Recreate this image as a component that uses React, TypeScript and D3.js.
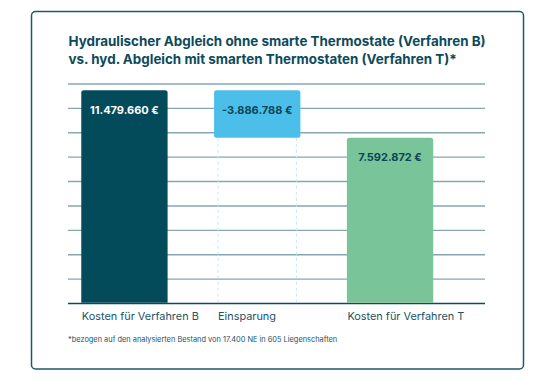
import React from "react";
import * as d3 from "d3";

const titleLines = [
  "Hydraulischer Abgleich ohne smarte Thermostate (Verfahren B)",
  "vs. hyd. Abgleich mit smarten Thermostaten (Verfahren T)*",
];
const categories = ["Kosten für Verfahren B", "Einsparung", "Kosten für Verfahren T"];
const values = [11479660, -3886788, 7592872];
const valueLabels = ["11.479.660 €", "-3.886.788 €", "7.592.872 €"];
const barColors = ["#034a5b", "#4bbfea", "#79c498"];
const labelColors = ["#ffffff", "#0b4556", "#0b4556"];
const gridTicks = [12e6, 10e6, 8e6, 6e6, 4e6, 2e6, 0, -2e6, -4e6];
const yDomain = [-6e6, 12e6];
const footnote = "*bezogen auf den analysierten Bestand von 17.400 NE in 605 Liegenschaften";

const W = 556;
const H = 380;
const FONT = "Inter, 'Noto Sans', sans-serif";
const DARK = "#0d4a5b";

export default function App() {
  const y = d3.scaleLinear().domain(yDomain).range([303.5, 84]);
  const x = d3.scaleBand<string>().domain(categories).range([68, 446.5]).paddingInner(0.35).paddingOuter(0.1);
  const bw = x.bandwidth();

  const bars = categories.map((c, i) => {
    let top: number, bottom: number;
    if (i === 1) {
      const start = values[0];
      const end = values[0] + values[1];
      top = y(Math.max(start, end));
      bottom = y(Math.min(start, end));
    } else {
      top = y(values[i]);
      bottom = y(yDomain[0]);
    }
    return { c, i, top, bottom, x: x(c) as number };
  });

  return (
    <div style={{ position: "absolute", left: 0, top: 0 }}>
      <svg width={W} height={H} style={{ display: "block", background: "#ffffff" }}>
        <rect x={31.5} y={11.5} width={492} height={357.5} rx={4} fill="#ffffff" stroke="#1f5868" strokeWidth={1.5} />
        {titleLines.map((t, i) => (
          <text key={i} x={68.5} y={45.5 + i * 18} fontFamily={FONT} fontWeight={700} fontSize={13.4} fill={DARK}>
            {t}
          </text>
        ))}
        {gridTicks.map((v) => (
          <line key={v} x1={68} x2={485} y1={y(v)} y2={y(v)} stroke="#86a7b1" strokeWidth={1.4} />
        ))}
        <line x1={68} x2={485} y1={y(yDomain[0])} y2={y(yDomain[0])} stroke={DARK} strokeWidth={1.6} />
        {bars.map((b) =>
          b.i === 1 ? (
            <g key={b.c}>
              {[b.x + 4, b.x + bw - 4].map((dx, k) => (
                <line key={k} x1={dx} x2={dx} y1={b.bottom} y2={y(yDomain[0]) - 1} stroke="#c2e6f7" strokeWidth={1} strokeDasharray="3,3" />
              ))}
            </g>
          ) : null
        )}
        {bars.map((b) => (
          <path
            key={b.c}
            d={
              b.i === 1
                ? roundedRect(b.x, b.top, bw, b.bottom - b.top, 2.5, true)
                : roundedRect(b.x, b.top, bw, b.bottom - b.top - 0.8, 2.5, false)
            }
            fill={barColors[b.i]}
          />
        ))}
        {bars.map((b) => (
          <text
            key={b.c}
            x={b.x + bw / 2}
            y={b.top + 23.5}
            textAnchor="middle"
            fontFamily={FONT}
            fontWeight={700}
            fontSize={11}
            fill={labelColors[b.i]}
          >
            {valueLabels[b.i]}
          </text>
        ))}
        {bars.map((b) => (
          <text key={b.c} x={b.x + (b.i === 1 ? 4 : 0.5)} y={320} fontFamily={FONT} fontSize={10.9} fill="#1d5366">
            {categories[b.i]}
          </text>
        ))}
        <text x={68} y={342} fontFamily={FONT} fontSize={7.4} fill="#1d5366">
          {footnote}
        </text>
      </svg>
    </div>
  );
}

function roundedRect(x0: number, y0: number, w: number, h: number, r: number, allCorners: boolean): string {
  const p = d3.path();
  p.moveTo(x0, y0 + h - (allCorners ? r : 0));
  p.lineTo(x0, y0 + r);
  p.arcTo(x0, y0, x0 + r, y0, r);
  p.lineTo(x0 + w - r, y0);
  p.arcTo(x0 + w, y0, x0 + w, y0 + r, r);
  if (allCorners) {
    p.lineTo(x0 + w, y0 + h - r);
    p.arcTo(x0 + w, y0 + h, x0 + w - r, y0 + h, r);
    p.lineTo(x0 + r, y0 + h);
    p.arcTo(x0, y0 + h, x0, y0 + h - r, r);
  } else {
    p.lineTo(x0 + w, y0 + h);
    p.lineTo(x0, y0 + h);
  }
  p.closePath();
  return p.toString();
}
